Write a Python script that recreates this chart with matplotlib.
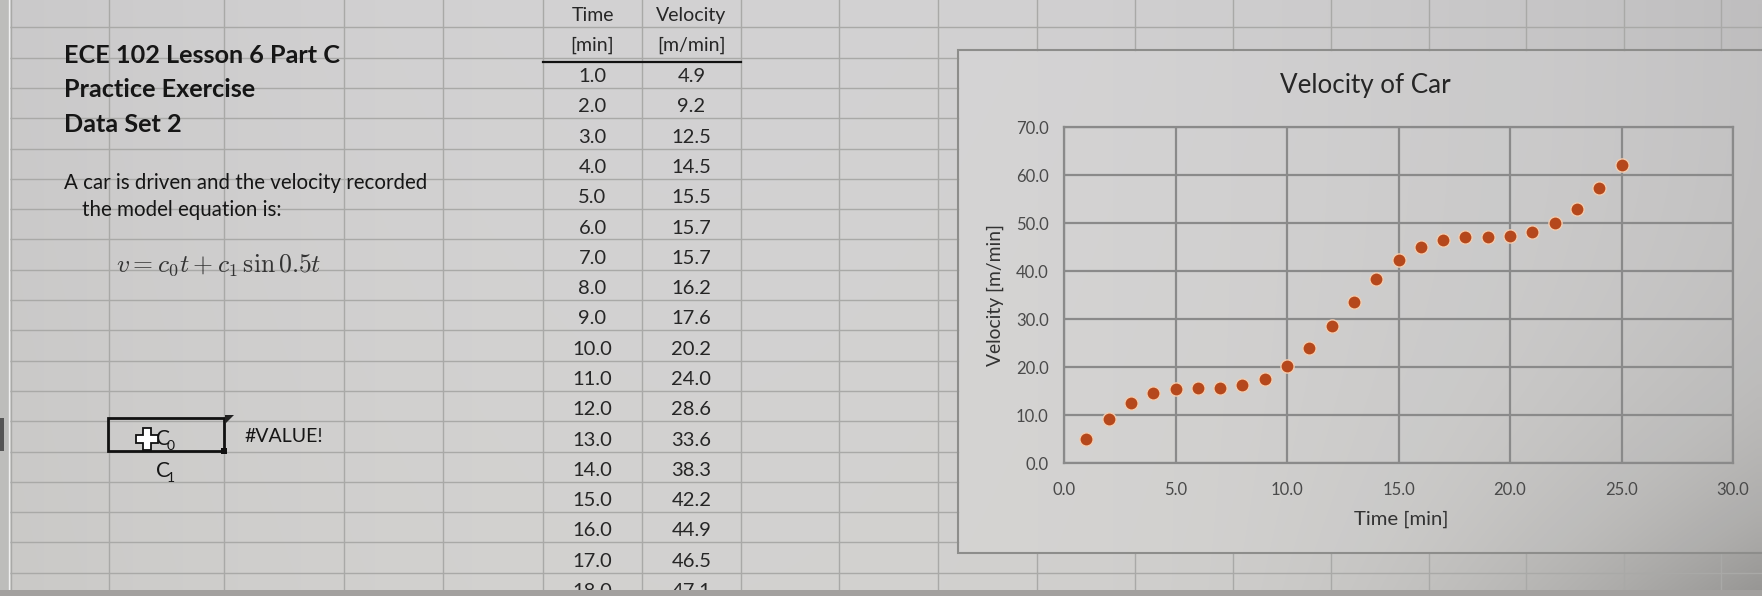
import numpy as np
import matplotlib
matplotlib.use("Agg")
import matplotlib.pyplot as plt
from matplotlib.patches import Rectangle, Polygon

# ---------------- data ----------------
time_min = [1.0, 2.0, 3.0, 4.0, 5.0, 6.0, 7.0, 8.0, 9.0, 10.0, 11.0, 12.0, 13.0,
            14.0, 15.0, 16.0, 17.0, 18.0, 19.0, 20.0, 21.0, 22.0, 23.0, 24.0, 25.0]
velocity = [4.9, 9.2, 12.5, 14.5, 15.5, 15.7, 15.7, 16.2, 17.6, 20.2, 24.0, 28.6, 33.6,
            38.3, 42.2, 44.9, 46.5, 47.1, 47.1, 47.3, 48.2, 49.9, 53.0, 57.2, 62.1]
table_rows_shown = 18
x_ticks = [0, 5, 10, 15, 20, 25, 30]
y_ticks = [0, 10, 20, 30, 40, 50, 60, 70]

W, H = 1762, 596
FONT = ["Lato", "DejaVu Sans"]
plt.rcParams["font.family"] = FONT
plt.rcParams["mathtext.fontset"] = "cm"

fig = plt.figure(figsize=(W / 100, H / 100), dpi=100)
bg = fig.add_axes([0, 0, 1, 1])
bg.set_xlim(0, W)
bg.set_ylim(H, 0)
bg.axis("off")

# ---- photo-like background gradient ----
xs = np.linspace(0, 1, 200)
ys = np.linspace(0, 1, 80)
U, V = np.meshgrid(xs, ys)
L = np.where(U < 0.4, 211 - 9 * ((0.4 - U) / 0.4) ** 2,
             211 - 20 * ((U - 0.4) / 0.6) ** 2)
L = L - 40 * np.clip((U - 0.65) / 0.35, 0, None) ** 2 * V ** 4
img = np.stack([L, L - 1, L - 3 * V], axis=-1) / 255.0
bg.imshow(np.clip(img, 0, 1), extent=[0, W, H, 0], aspect="auto",
          interpolation="bilinear", zorder=0)

# ---- spreadsheet grid ----
GRID = "#a9a9a7"
box_l, box_t, box_b = 958, 50, 553
row_lines = [-3 + 30.3 * k for k in range(1, 20)]
col_lines = [11, 109, 224, 344, 443, 543, 642, 741, 839, 938, 1037, 1135, 1233,
             1331, 1429, 1526, 1624, 1721]
for y in row_lines:
    if box_t < y < box_b:
        bg.plot([0, box_l], [y, y], color=GRID, lw=1.0, zorder=1)
    else:
        bg.plot([0, W], [y, y], color=GRID, lw=1.0, zorder=1)
for x in col_lines:
    if x > box_l:
        bg.plot([x, x], [0, box_t], color=GRID, lw=1.0, zorder=1)
        bg.plot([x, x], [box_b, H], color=GRID, lw=1.0, zorder=1)
    else:
        bg.plot([x, x], [0, H], color=GRID, lw=1.0, zorder=1)

# row-header strip at the far left
bg.add_patch(Rectangle((0, 0), 9, H, facecolor="#bdbdbb", edgecolor="none", zorder=1))
bg.plot([9, 9], [0, H], color="#f0f0f0", lw=1, zorder=1)
bg.add_patch(Rectangle((0, 418), 4, 33, facecolor="#555555", edgecolor="none", zorder=2))

# ---- left text ----
TXT = "#161616"
bg.text(64, 63, "ECE 102 Lesson 6 Part C", fontsize=18.2, fontweight="bold",
        color=TXT, va="baseline", ha="left", zorder=3)
bg.text(64, 97, "Practice Exercise", fontsize=18.2, fontweight="bold",
        color=TXT, va="baseline", ha="left", zorder=3)
bg.text(64, 132, "Data Set 2", fontsize=18.2, fontweight="bold",
        color=TXT, va="baseline", ha="left", zorder=3)
bg.text(64, 189, "A car is driven and the velocity recorded", fontsize=14.8,
        color=TXT, va="baseline", ha="left", zorder=3)
bg.text(82, 216, "the model equation is:", fontsize=14.8,
        color=TXT, va="baseline", ha="left", zorder=3)
bg.text(116, 272, r"$v = c_0 t + c_1\,\sin 0.5t$", fontsize=18.5,
        color="#333333", va="baseline", ha="left", zorder=3)

# selected cell with C0
bg.add_patch(Rectangle((108, 418), 116, 33, facecolor="none", edgecolor="#111111",
                       lw=2, zorder=4))
bg.add_patch(Rectangle((221, 448), 6, 6, facecolor="#111111", edgecolor="none", zorder=5))
bg.add_patch(Polygon([[225, 415], [234, 415], [225, 424]], closed=True,
                     facecolor="#222222", edgecolor="none", zorder=5))
cx, cy, a, t = 147, 439, 11, 4
cross = [[cx - t, cy - a], [cx + t, cy - a], [cx + t, cy - t], [cx + a, cy - t],
         [cx + a, cy + t], [cx + t, cy + t], [cx + t, cy + a], [cx - t, cy + a],
         [cx - t, cy + t], [cx - a, cy + t], [cx - a, cy - t], [cx - t, cy - t]]
bg.add_patch(Polygon(cross, closed=True, facecolor="white", edgecolor="#111111",
                     lw=1.3, zorder=6))
bg.text(156, 445, "C", fontsize=15, color=TXT, va="baseline", ha="left", zorder=5)
bg.text(167, 450, "0", fontsize=10, color=TXT, va="baseline", ha="left", zorder=5)
bg.text(156, 477, "C", fontsize=15, color=TXT, va="baseline", ha="left", zorder=5)
bg.text(167, 482, "1", fontsize=10, color=TXT, va="baseline", ha="left", zorder=5)
bg.text(244, 442, "#VALUE!", fontsize=14, color=TXT, va="baseline", ha="left", zorder=5)

# ---- data table ----
TAB = "#262626"
bg.text(592.5, 21, "Time", fontsize=14, color=TAB, ha="center", va="baseline", zorder=3)
bg.text(592.5, 51, "[min]", fontsize=14, color=TAB, ha="center", va="baseline", zorder=3)
bg.text(691.5, 21, "Velocity", fontsize=14, color=TAB, ha="center", va="baseline", zorder=3)
bg.text(691.5, 51, "[m/min]", fontsize=14, color=TAB, ha="center", va="baseline", zorder=3)
bg.plot([543, 741], [62, 62], color="#111111", lw=1.6, zorder=3)
for i in range(table_rows_shown):
    yb = 82 + 30.3 * i
    bg.text(592.5, yb, f"{time_min[i]:.1f}", fontsize=14.5, color=TAB,
            ha="center", va="baseline", zorder=3)
    bg.text(691.5, yb, f"{velocity[i]:.1f}", fontsize=14.5, color=TAB,
            ha="center", va="baseline", zorder=3)

# bottom band of the screen
bg.add_patch(Rectangle((0, 590), W, 6, facecolor="#a3a19f", edgecolor="none", zorder=7))

# ---- chart area box ----
bg.add_patch(Rectangle((box_l, box_t), W + 20 - box_l, box_b - box_t,
                       facecolor=(1, 1, 1, 0.07), edgecolor="#8d8d8b", lw=1.5, zorder=2))
bg.text(1365, 93, "Velocity of Car", fontsize=18.7, color="#262626",
        ha="center", va="baseline", zorder=3)
bg.text(995, 295, "Velocity [m/min]", fontsize=13.9, color="#333333", rotation=90,
        ha="center", va="center", zorder=3)
bg.text(1401, 519, "Time [min]", fontsize=14.6, color="#333333",
        ha="center", va="center", zorder=3)

# ---- scatter plot ----
pl, pr, pt, pb = 1064, 1733, 127, 463
ax = fig.add_axes([pl / W, 1 - pb / H, (pr - pl) / W, (pb - pt) / H])
ax.set_facecolor("none")
ax.set_xlim(0, 30)
ax.set_ylim(0, 70)
ax.set_xticks(x_ticks)
ax.set_yticks(y_ticks)
ax.set_xticklabels([f"{v:.1f}" for v in x_ticks])
ax.set_yticklabels([f"{v:.1f}" for v in y_ticks])
ax.grid(True, color="#8a8a8a", lw=1.6)
ax.set_axisbelow(True)
for s in ax.spines.values():
    s.set_color("#8a8a8a")
    s.set_linewidth(1.6)
ax.tick_params(length=0, labelsize=12, labelcolor="#4a4a4a")
ax.tick_params(axis="y", pad=11)
ax.tick_params(axis="x", pad=14)
ax.plot(time_min, velocity, linestyle="none", marker="o", markersize=9.5,
        markerfacecolor="#b5481c", markeredgecolor="#f3cdb0", markeredgewidth=1.0,
        zorder=5, clip_on=False)

fig.savefig("out.png", dpi=100)
